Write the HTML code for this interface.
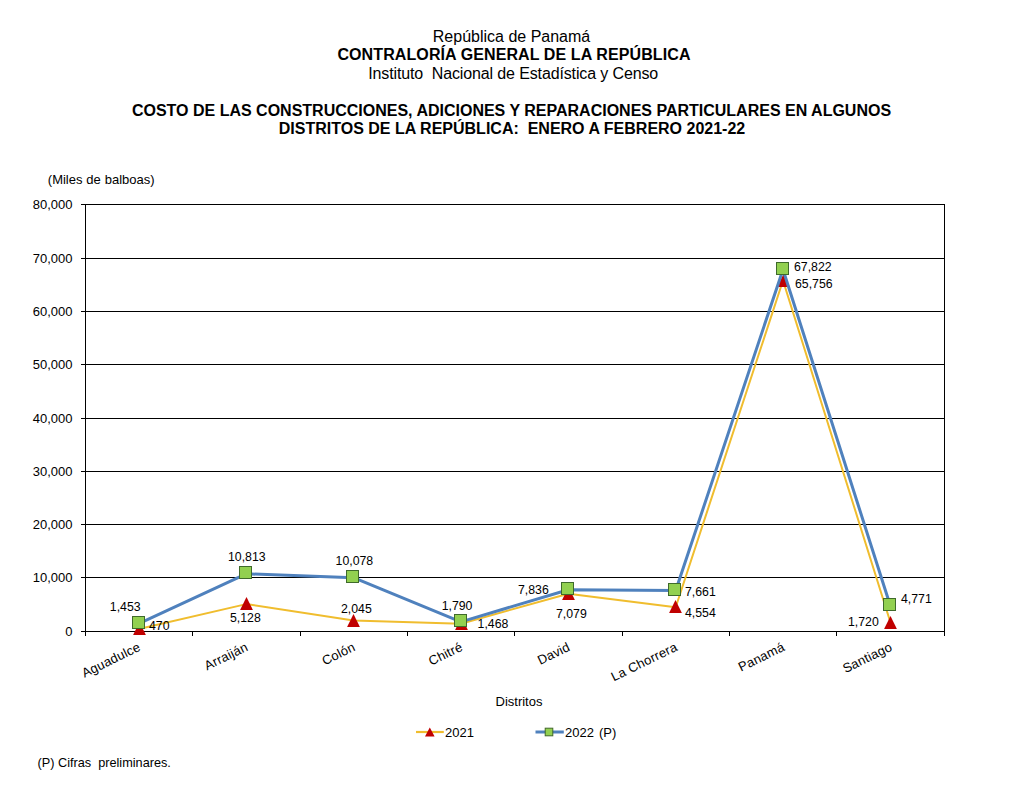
<!DOCTYPE html>
<html><head><meta charset="utf-8"><title>Costo de las construcciones</title>
<style>
html,body{margin:0;padding:0;background:#fff;}
body{width:1012px;height:791px;overflow:hidden;position:relative;font-family:"Liberation Sans",sans-serif;color:#000;}
svg{position:absolute;left:0;top:0;}
text{font-family:"Liberation Sans",sans-serif;fill:#000;white-space:pre;}
.h{font-size:16px;}
.hb{font-size:16px;font-weight:bold;}
.t{font-size:13px;}
.c{font-size:13px;letter-spacing:0.22px;}
.f{font-size:12.7px;}
.d{font-size:12.3px;}
</style></head><body>
<svg width="1012" height="791" viewBox="0 0 1012 791">
<rect x="0" y="0" width="1012" height="791" fill="#ffffff"/>
<text class="h" x="511.5" y="42" text-anchor="middle">República de Panamá</text>
<text class="hb" x="514" y="60" text-anchor="middle" style="letter-spacing:0.1px">CONTRALORÍA GENERAL DE LA REPÚBLICA</text>
<text class="h" x="513.2" y="79" text-anchor="middle" style="letter-spacing:-0.13px">Instituto  Nacional de Estadística y Censo</text>
<text class="hb" x="511.5" y="116" text-anchor="middle">COSTO DE LAS CONSTRUCCIONES, ADICIONES Y REPARACIONES PARTICULARES EN ALGUNOS</text>
<text class="hb" x="512" y="134" text-anchor="middle">DISTRITOS DE LA REPÚBLICA:  ENERO A FEBRERO 2021-22</text>
<text class="t" x="47.8" y="184" style="word-spacing:0.3px">(Miles de balboas)</text>
<g stroke="#000" stroke-width="1" shape-rendering="crispEdges" fill="none">
<line x1="81.0" y1="577.5" x2="944.5" y2="577.5"/>
<line x1="81.0" y1="524.5" x2="944.5" y2="524.5"/>
<line x1="81.0" y1="471.5" x2="944.5" y2="471.5"/>
<line x1="81.0" y1="418.5" x2="944.5" y2="418.5"/>
<line x1="81.0" y1="364.5" x2="944.5" y2="364.5"/>
<line x1="81.0" y1="311.5" x2="944.5" y2="311.5"/>
<line x1="81.0" y1="258.5" x2="944.5" y2="258.5"/>
<line x1="81.0" y1="204.5" x2="944.5" y2="204.5"/>
<line x1="944.5" y1="204.0" x2="944.5" y2="632.0"/>
</g>
<text class="t" x="72.5" y="636.1" text-anchor="end">0</text>
<text class="t" x="72.5" y="582.1" text-anchor="end">10,000</text>
<text class="t" x="72.5" y="529.1" text-anchor="end">20,000</text>
<text class="t" x="72.5" y="476.1" text-anchor="end">30,000</text>
<text class="t" x="72.5" y="423.1" text-anchor="end">40,000</text>
<text class="t" x="72.5" y="369.1" text-anchor="end">50,000</text>
<text class="t" x="72.5" y="316.1" text-anchor="end">60,000</text>
<text class="t" x="72.5" y="263.1" text-anchor="end">70,000</text>
<text class="t" x="72.5" y="209.1" text-anchor="end">80,000</text>
<g stroke="#000" stroke-width="1" shape-rendering="crispEdges" fill="none">
<line x1="85.5" y1="204.0" x2="85.5" y2="636.0"/>
<line x1="81.0" y1="631.5" x2="945.0" y2="631.5"/>
<line x1="192.5" y1="631.5" x2="192.5" y2="636.0"/>
<line x1="300.5" y1="631.5" x2="300.5" y2="636.0"/>
<line x1="407.5" y1="631.5" x2="407.5" y2="636.0"/>
<line x1="514.5" y1="631.5" x2="514.5" y2="636.0"/>
<line x1="622.5" y1="631.5" x2="622.5" y2="636.0"/>
<line x1="729.5" y1="631.5" x2="729.5" y2="636.0"/>
<line x1="836.5" y1="631.5" x2="836.5" y2="636.0"/>
<line x1="944.5" y1="631.5" x2="944.5" y2="636.0"/>
</g>
<polyline points="138.8,629.0 246.2,604.1 353.5,620.6 460.9,623.7 568.3,593.7 675.7,607.2 783.0,280.5 890.4,622.3" fill="none" stroke="#F0BD2E" stroke-width="2" stroke-linejoin="round" stroke-linecap="round"/>
<polygon points="139.5,621.9 145.9,635.0 133.1,635.0" fill="#C00000"/>
<polygon points="246.5,596.9 252.9,610.0 240.1,610.0" fill="#C00000"/>
<polygon points="353.5,613.9 359.9,627.0 347.1,627.0" fill="#C00000"/>
<polygon points="461.5,616.9 467.9,630.0 455.1,630.0" fill="#C00000"/>
<polygon points="568.5,586.9 574.9,600.0 562.1,600.0" fill="#C00000"/>
<polygon points="675.5,599.9 681.9,613.0 669.1,613.0" fill="#C00000"/>
<polygon points="783.5,273.9 789.9,287.0 777.1,287.0" fill="#C00000"/>
<polygon points="890.5,615.9 896.9,629.0 884.1,629.0" fill="#C00000"/>
<polyline points="138.8,623.7 246.2,573.8 353.5,577.7 460.9,621.9 568.3,589.7 675.7,590.6 783.0,269.5 890.4,606.0" fill="none" stroke="#4F81BD" stroke-width="3" stroke-linejoin="round" stroke-linecap="round"/>
<rect x="132.5" y="616.5" width="12" height="12" fill="#92D050" stroke="#3F6A2B" stroke-width="1" shape-rendering="crispEdges"/>
<rect x="239.5" y="566.5" width="12" height="12" fill="#92D050" stroke="#3F6A2B" stroke-width="1" shape-rendering="crispEdges"/>
<rect x="346.5" y="570.5" width="12" height="12" fill="#92D050" stroke="#3F6A2B" stroke-width="1" shape-rendering="crispEdges"/>
<rect x="454.5" y="614.5" width="12" height="12" fill="#92D050" stroke="#3F6A2B" stroke-width="1" shape-rendering="crispEdges"/>
<rect x="561.5" y="582.5" width="12" height="12" fill="#92D050" stroke="#3F6A2B" stroke-width="1" shape-rendering="crispEdges"/>
<rect x="668.5" y="583.5" width="12" height="12" fill="#92D050" stroke="#3F6A2B" stroke-width="1" shape-rendering="crispEdges"/>
<rect x="776.5" y="262.5" width="12" height="12" fill="#92D050" stroke="#3F6A2B" stroke-width="1" shape-rendering="crispEdges"/>
<rect x="883.5" y="598.5" width="12" height="12" fill="#92D050" stroke="#3F6A2B" stroke-width="1" shape-rendering="crispEdges"/>
<text class="d" x="109.8" y="611.0" text-anchor="start">1,453</text>
<text class="d" x="149.0" y="630.0" text-anchor="start">470</text>
<text class="d" x="228.0" y="561.0" text-anchor="start">10,813</text>
<text class="d" x="230.0" y="622.0" text-anchor="start">5,128</text>
<text class="d" x="335.6" y="565.0" text-anchor="start">10,078</text>
<text class="d" x="341.0" y="613.0" text-anchor="start">2,045</text>
<text class="d" x="441.7" y="610.0" text-anchor="start">1,790</text>
<text class="d" x="477.6" y="628.0" text-anchor="start">1,468</text>
<text class="d" x="518.0" y="594.0" text-anchor="start">7,836</text>
<text class="d" x="556.0" y="617.6" text-anchor="start">7,079</text>
<text class="d" x="685.0" y="595.7" text-anchor="start">7,661</text>
<text class="d" x="685.0" y="617.0" text-anchor="start">4,554</text>
<text class="d" x="794.0" y="271.0" text-anchor="start">67,822</text>
<text class="d" x="795.0" y="288.0" text-anchor="start">65,756</text>
<text class="d" x="901.0" y="603.0" text-anchor="start">4,771</text>
<text class="d" x="848.0" y="626.0" text-anchor="start">1,720</text>
<text class="c" transform="translate(141.5,650.0) rotate(-26)" text-anchor="end">Aguadulce</text>
<text class="c" transform="translate(248.9,650.0) rotate(-26)" text-anchor="end">Arraiján</text>
<text class="c" transform="translate(356.2,650.0) rotate(-26)" text-anchor="end">Colón</text>
<text class="c" transform="translate(463.6,650.0) rotate(-26)" text-anchor="end">Chitré</text>
<text class="c" transform="translate(571.0,650.0) rotate(-26)" text-anchor="end">David</text>
<text class="c" transform="translate(678.4,650.0) rotate(-26)" text-anchor="end">La Chorrera</text>
<text class="c" transform="translate(785.7,650.0) rotate(-26)" text-anchor="end">Panamá</text>
<text class="c" transform="translate(893.1,650.0) rotate(-26)" text-anchor="end">Santiago</text>
<text class="t" x="519" y="706" text-anchor="middle" >Distritos</text>
<line x1="416" y1="732" x2="443.8" y2="732" stroke="#F0BD2E" stroke-width="2.2"/>
<polygon points="429.8,727.6 434.6,736.4 425,736.4" fill="#C00000"/>
<text class="t" x="445" y="737">2021</text>
<line x1="535.5" y1="732" x2="563.8" y2="732" stroke="#4F81BD" stroke-width="3"/>
<rect x="545.2" y="728.2" width="7.6" height="7.6" fill="#92D050" stroke="#41682A" stroke-width="1"/>
<text class="t" x="565" y="737" style="word-spacing:1.5px">2022 (P)</text>
<text class="f" x="37.6" y="767">(P) Cifras  preliminares.</text>
</svg>
</body></html>
